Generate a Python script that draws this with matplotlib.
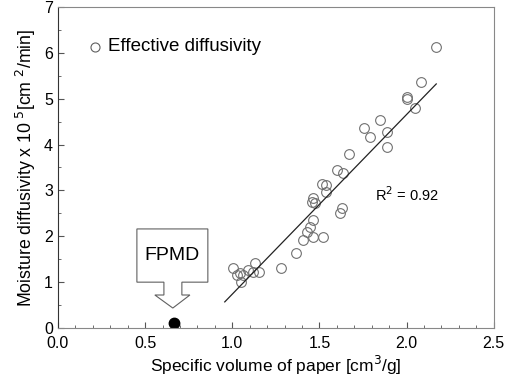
import numpy as np
import matplotlib
matplotlib.use("Agg")
import matplotlib.pyplot as plt
from matplotlib.patches import Polygon
from matplotlib.ticker import MultipleLocator

plt.rcParams['font.family'] = ['Liberation Sans', 'DejaVu Sans']

# measured effective diffusivity (x 1e5 cm2/min) vs specific volume (cm3/g)
spec_vol = [1.005, 1.03, 1.044, 1.053, 1.062, 1.09, 1.12, 1.13, 1.154, 1.279,
            1.368, 1.407, 1.426, 1.445, 1.455, 1.464, 1.464, 1.464, 1.474, 1.517,
            1.521, 1.537, 1.54, 1.60, 1.617, 1.632, 1.636, 1.67, 1.755, 1.789,
            1.846, 1.888, 1.89, 2.0, 2.005, 2.047, 2.08, 2.167]
diffusivity = [1.30, 1.16, 1.19, 1.01, 1.16, 1.26, 1.23, 1.41, 1.23, 1.30,
               1.63, 1.92, 2.10, 2.20, 2.75, 2.83, 2.35, 1.99, 2.72, 3.15,
               1.98, 3.12, 2.97, 3.44, 2.50, 2.61, 3.37, 3.79, 4.35, 4.17,
               4.54, 4.28, 3.95, 5.04, 5.00, 4.79, 5.37, 6.13]

# linear fit drawn in the figure
fit_x = [0.957, 2.17]
fit_y = [0.57, 5.32]

# FPMD point
fpmd_x = [0.665]
fpmd_y = [0.11]

fig = plt.figure(figsize=(5.08, 3.81), dpi=100)
ax = fig.add_axes([0.114, 0.139, 0.858, 0.843])

ax.plot(spec_vol, diffusivity, 'o', mfc='none', mec='#707070', mew=0.8, ms=7)
ax.plot(fit_x, fit_y, '-', color='#222222', lw=0.9)
ax.plot(fpmd_x, fpmd_y, 'o', color='black', ms=7.5)

# legend entry
ax.plot([0.21], [6.13], 'o', mfc='none', mec='#606060', mew=0.8, ms=6.5)
ax.text(0.285, 6.13, 'Effective diffusivity', fontsize=13.5, va='center')

ax.text(1.82, 2.9, r'R$^2$ = 0.92', fontsize=10.5, va='center')

# FPMD callout box with down arrow
px, py = fpmd_x[0], fpmd_y[0]
callout = [(px - 0.212, py + 2.05), (px + 0.195, py + 2.05), (px + 0.195, py + 0.89),
           (px + 0.046, py + 0.89), (px + 0.046, py + 0.61), (px + 0.092, py + 0.61),
           (px - 0.006, py + 0.326), (px - 0.109, py + 0.61), (px - 0.057, py + 0.61),
           (px - 0.057, py + 0.89), (px - 0.212, py + 0.89)]
ax.add_patch(Polygon(callout, closed=True, fill=False, ec='#606060', lw=0.8))
ax.text(px - 0.008, py + 1.47, 'FPMD', fontsize=14, ha='center', va='center')

ax.set_xlim(0, 2.5)
ax.set_ylim(0, 7)
ax.xaxis.set_major_locator(MultipleLocator(0.5))
ax.xaxis.set_minor_locator(MultipleLocator(0.1))
ax.yaxis.set_major_locator(MultipleLocator(1))
ax.yaxis.set_minor_locator(MultipleLocator(0.5))
ax.xaxis.set_major_formatter(matplotlib.ticker.FormatStrFormatter('%.1f'))
ax.tick_params(which='both', direction='in', labelsize=11.5, color='#555555')
ax.tick_params(which='major', length=4)
ax.tick_params(which='minor', length=2.5)
ax.tick_params(axis='x', pad=5.5)
for s in ax.spines.values():
    s.set_color('#888888')
    s.set_linewidth(0.8)
ax.spines['left'].set_color('#333333')

ax.set_xlabel(r'Specific volume of paper [cm$^3$/g]', fontsize=12.5, labelpad=2)
ax.set_ylabel(r'Moisture diffusivity x 10$^{\ 5}$[cm $^2$/min]', fontsize=12.8, labelpad=4)

fig.savefig('out.png', dpi=100)
